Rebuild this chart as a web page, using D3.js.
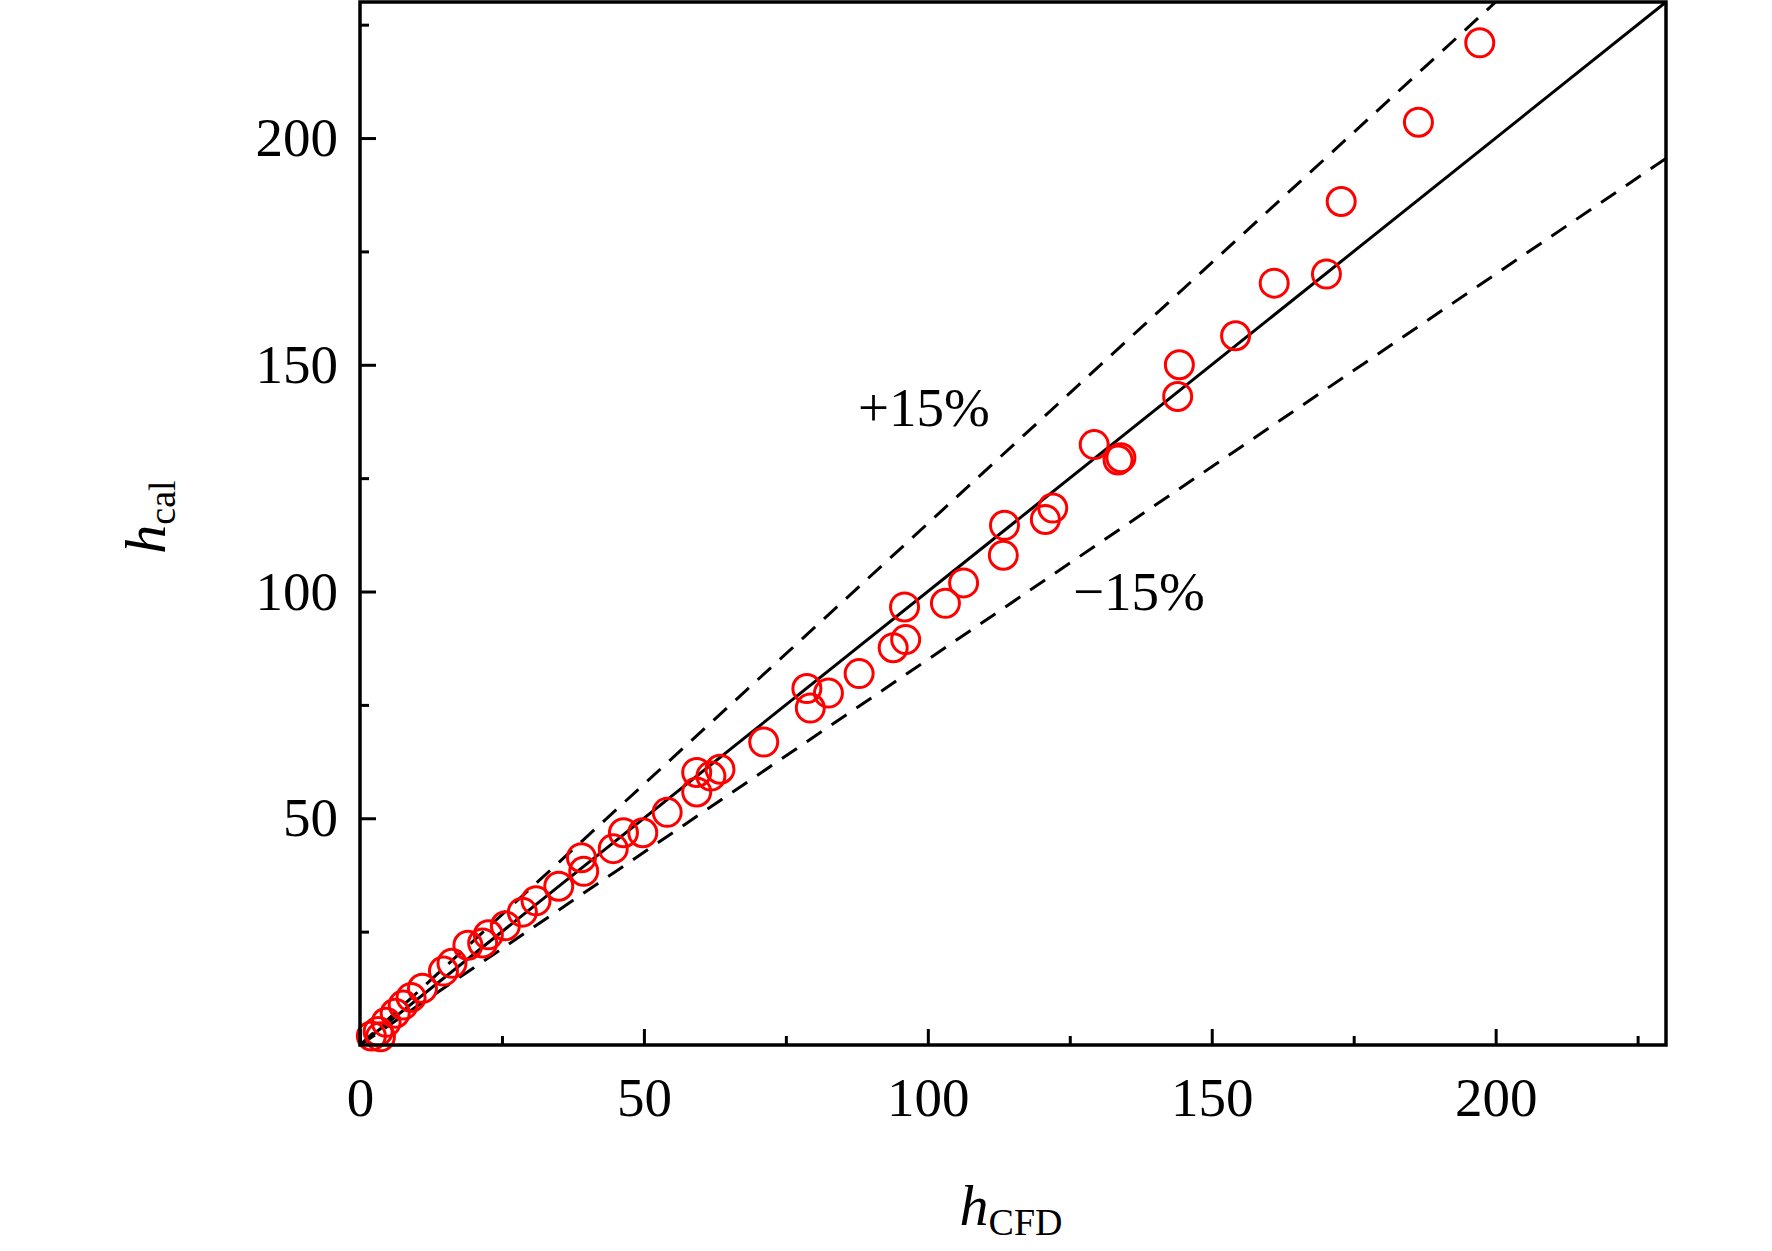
<!DOCTYPE html>
<html>
<head>
<meta charset="utf-8">
<script src="https://cdn.jsdelivr.net/npm/d3@7"></script>
<style>
  body { margin: 0; background: #fff; }
  text { font-family: "Liberation Serif", "Times New Roman", serif; }
</style>
</head>
<body>
<svg id="chart" width="1772" height="1251"></svg>
<script>
// data
var hCFD = [197.2, 186.4, 172.8, 170.2, 161, 154.2, 144.3, 144, 129.3, 133.5, 134, 122, 120.7,
  113.5, 113.3, 106.3, 103.1, 95.9, 96.1, 93.9, 87.9, 82.5, 78.7, 79.3, 71.1, 63.4, 61.8, 59.3,
  59.3, 54.1, 49.8, 46.4, 44.6, 39.4, 39, 35, 31, 28.6, 25.6, 22.6, 19, 21.6, 16.2, 14.7, 11,
  9, 7.6, 6.2, 4.6, 3.2, 2, 3.6];
var hCal = [221, 203.5, 186, 170, 168, 156.4, 150, 143, 132.4, 129, 129.5, 118.4, 115.9,
  114.6, 108, 101.9, 97.4, 96.6, 89.4, 87.6, 81.9, 77.6, 78.6, 74.3, 66.8, 60.8, 59.3, 60.1,
  55.8, 51.3, 46.8, 46.8, 43.3, 38.3, 41.3, 35, 31.8, 29.3, 26.3, 24.3, 22, 22.5, 18, 16.3, 12.5,
  10.5, 8.8, 7, 5, 3, 2, 1.8];
var majorTicks = [0, 50, 100, 150, 200];
var minorTicks = [25, 75, 125, 175, 225];

function draw() {
  var svg = d3.select("#chart");
  var pLeft = 360, pRight = 1666, pTop = 2, pBottom = 1045;

  var x = d3.scaleLinear().domain([0, 230]).range([pLeft, pRight]);
  var y = d3.scaleLinear().domain([0, 230]).range([pBottom, pTop]);

  svg.append("clipPath").attr("id", "clip").append("rect")
    .attr("x", pLeft).attr("y", pTop).attr("width", pRight - pLeft).attr("height", pBottom - pTop);

  var line = d3.line().x(d => x(d[0])).y(d => y(d[1]));
  var lines = svg.append("g").attr("clip-path", "url(#clip)");
  lines.append("path").datum([[0, 0], [230, 230]]).attr("d", line)
    .attr("stroke", "#000").attr("stroke-width", 3).attr("fill", "none");
  lines.append("path").datum([[0, 0], [200, 230]]).attr("d", line)
    .attr("stroke", "#000").attr("stroke-width", 3).attr("stroke-dasharray", "18,12").attr("fill", "none");
  lines.append("path").datum([[0, 0], [230, 195.5]]).attr("d", line)
    .attr("stroke", "#000").attr("stroke-width", 3).attr("stroke-dasharray", "18,12").attr("fill", "none");

  // points
  svg.append("g").selectAll("circle").data(hCFD).enter().append("circle")
    .attr("cx", d => x(d)).attr("cy", (d, i) => y(hCal[i])).attr("r", 14)
    .attr("fill", "none").attr("stroke", "#ff0000").attr("stroke-width", 3);

  // axes with inward ticks
  var xAxis = svg.append("g").attr("transform", "translate(0," + pBottom + ")")
    .call(d3.axisBottom(x).tickValues(majorTicks).tickSize(-16).tickPadding(24));
  svg.append("g").attr("transform", "translate(0," + pBottom + ")")
    .call(d3.axisBottom(x).tickValues(minorTicks).tickSize(-9).tickFormat(""));
  svg.append("g").attr("transform", "translate(" + pLeft + ",0)")
    .call(d3.axisLeft(y).tickValues(majorTicks.slice(1)).tickSize(-16).tickPadding(22));
  svg.append("g").attr("transform", "translate(" + pLeft + ",0)")
    .call(d3.axisLeft(y).tickValues(minorTicks).tickSize(-9).tickFormat(""));

  svg.selectAll(".domain").remove();
  svg.selectAll(".tick line").attr("stroke", "#000").attr("stroke-width", 3);
  svg.selectAll(".tick text").attr("font-size", 55).attr("fill", "#000")
    .attr("font-family", "Liberation Serif");
  xAxis.selectAll(".tick text").attr("dy", "0.85em");

  svg.append("rect").attr("x", pLeft).attr("y", pTop).attr("width", pRight - pLeft).attr("height", pBottom - pTop)
    .attr("fill", "none").attr("stroke", "#000").attr("stroke-width", 3.5);

  // annotations
  svg.append("text").attr("x", 858).attr("y", 426).attr("font-size", 55).text("+15%");
  svg.append("text").attr("x", 1073).attr("y", 610).attr("font-size", 55).text("\u221215%");

  var xl = svg.append("text").attr("x", 1011).attr("y", 1225).attr("text-anchor", "middle").attr("font-size", 58);
  xl.append("tspan").attr("font-style", "italic").text("h");
  xl.append("tspan").attr("font-size", 38).attr("dy", 10).text("CFD");

  var yl = svg.append("text").attr("transform", "translate(165,517) rotate(-90)")
    .attr("text-anchor", "middle").attr("font-size", 58);
  yl.append("tspan").attr("font-style", "italic").text("h");
  yl.append("tspan").attr("font-size", 38).attr("dy", 10).text("cal");
}

draw();
</script>
</body>
</html>
